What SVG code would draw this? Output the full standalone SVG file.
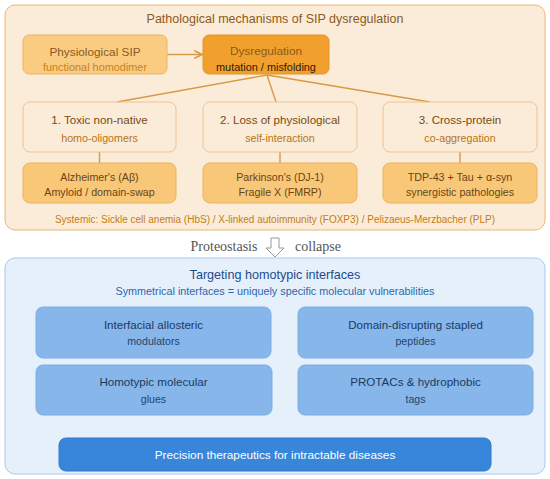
<svg xmlns="http://www.w3.org/2000/svg" width="550" height="479" viewBox="0 0 550 479">
<defs>
<style>
text{font-family:"Helvetica Neue","Liberation Sans",Arial,sans-serif;text-anchor:middle}
.panelA{fill:#fbecd9;stroke:#e8b877;stroke-width:1}
.panelB{fill:#e6f0fb;stroke:#a9c9ef;stroke-width:1}
.light{fill:#f9cc82;stroke:#edb35e;stroke-width:1}
.dark{fill:#f1a02e;stroke:#e39427;stroke-width:1}
.mech{fill:#fbecd9;stroke:#eec48f;stroke-width:1}
.dis{fill:#f8c878;stroke:#eab160;stroke-width:1}
.blue{fill:#86b6ea;stroke:#7aaee6;stroke-width:1}
.final{fill:#3886da;stroke:#3078c8;stroke-width:1}
.conA{stroke:#d99a45;stroke-width:1.4;fill:none}
.conB{stroke:#70a8e6;stroke-width:1.2;fill:none}
.t1{font-size:11.8px;fill:#8a5a1a}
.s1{font-size:10.9px;fill:#c0801c}
.t2{font-size:11.6px;fill:#7a4a10}
.s2{font-size:10.7px;fill:#b87410}
.d{font-size:10.7px;fill:#6a4414}
.bt{font-size:11.6px;fill:#1c3a60}
.bs{font-size:10.6px;fill:#24456e}
</style>
<marker id="arrA" viewBox="0 0 10 10" refX="9" refY="5" markerWidth="7" markerHeight="7" orient="auto"><path d="M1,1 L9,5 L1,9" fill="none" stroke="#d99a45" stroke-width="1.6"/></marker>
<marker id="arrB" viewBox="0 0 10 10" refX="9" refY="5" markerWidth="6" markerHeight="6" orient="auto"><path d="M1,1 L9,5 L1,9" fill="none" stroke="#70a8e6" stroke-width="1.6"/></marker>
</defs>
<rect width="550" height="479" fill="#ffffff"/>
<g id="panel-top">
<rect class="panelA" x="5" y="5" width="540" height="225" rx="10"/>
<text x="275" y="23" style="font-size:12.5px;fill:#8a5a1a">Pathological mechanisms of SIP dysregulation</text>
<text x="275" y="223" style="font-size:10px;fill:#c47c14">Systemic: Sickle cell anemia (HbS) / X-linked autoimmunity (FOXP3) / Pelizaeus-Merzbacher (PLP)</text>
</g>
<g id="connectors">
<line class="conA" x1="167" y1="54.5" x2="202" y2="54.5" marker-end="url(#arrA)"/>
<line class="conA" x1="267" y1="75" x2="117" y2="102"/>
<line class="conA" x1="267" y1="75" x2="276" y2="102"/>
<line class="conA" x1="267" y1="75" x2="430" y2="102"/>
<line class="conA" x1="99.5" y1="152" x2="99.5" y2="163"/>
<line class="conA" x1="280" y1="152" x2="280" y2="163"/>
<line class="conA" x1="460" y1="152" x2="460" y2="163"/>
<line class="conB" x1="153.5" y1="415" x2="153.5" y2="437" marker-end="url(#arrB)"/>
<line class="conB" x1="415.5" y1="415" x2="415.5" y2="437" marker-end="url(#arrB)"/>
</g>
<g id="n-physio">
<rect class="light" x="23" y="35" width="144" height="39" rx="6"/>
<text x="95" y="56" class="t1">Physiological SIP</text>
<text x="95" y="71" class="s1" style="fill:#c8821c">functional homodimer</text>
</g>
<g id="n-dysreg">
<rect class="dark" x="203" y="35" width="126" height="39" rx="6"/>
<text x="266" y="55" class="t1" style="fill:#8a5a1a">Dysregulation</text>
<text x="266" y="71" style="font-size:10.9px;fill:#2a1c08">mutation / misfolding</text>
</g>
<g id="n-mech1">
<rect class="mech" x="23" y="102" width="153" height="50" rx="7"/>
<text x="99.5" y="124" class="t2">1. Toxic non-native</text>
<text x="99.5" y="142" class="s2">homo-oligomers</text>
</g>
<g id="n-mech2">
<rect class="mech" x="203" y="102" width="154" height="50" rx="7"/>
<text x="280" y="124" class="t2">2. Loss of physiological</text>
<text x="280" y="142" class="s2">self-interaction</text>
</g>
<g id="n-mech3">
<rect class="mech" x="383" y="102" width="154" height="50" rx="7"/>
<text x="460" y="124" class="t2">3. Cross-protein</text>
<text x="460" y="142" class="s2">co-aggregation</text>
</g>
<g id="n-dis1">
<rect class="dis" x="23" y="163" width="153" height="40" rx="7"/>
<text x="99.5" y="181" class="d">Alzheimer's (Aβ)</text>
<text x="99.5" y="196" class="d">Amyloid / domain-swap</text>
</g>
<g id="n-dis2">
<rect class="dis" x="203" y="163" width="154" height="40" rx="7"/>
<text x="280" y="181" class="d">Parkinson's (DJ-1)</text>
<text x="280" y="196" class="d">Fragile X (FMRP)</text>
</g>
<g id="n-dis3">
<rect class="dis" x="383" y="163" width="154" height="40" rx="7"/>
<text x="460" y="181" class="d">TDP-43 + Tau + α-syn</text>
<text x="460" y="196" class="d">synergistic pathologies</text>
</g>
<g id="transition">
<text x="224" y="251" style="font-family:'Liberation Serif','Times New Roman',serif;font-size:14px;fill:#555555">Proteostasis</text>
<path d="M271,238 L279,238 L279,248 L284,248 L275,257 L266,248 L271,248 Z" fill="#ffffff" stroke="#999999" stroke-width="1"/>
<text x="318" y="251" style="font-family:'Liberation Serif','Times New Roman',serif;font-size:14px;fill:#555555">collapse</text>
</g>
<g id="panel-bottom">
<rect class="panelB" x="5" y="258" width="540" height="216" rx="10"/>
<text x="275" y="279" style="font-size:12.6px;fill:#1a4c8c">Targeting homotypic interfaces</text>
<text x="275" y="295" style="font-size:10.8px;fill:#2a66b0">Symmetrical interfaces = uniquely specific molecular vulnerabilities</text>
</g>
<g id="n-allo">
<rect class="blue" x="36" y="307" width="235" height="51" rx="7"/>
<text x="153.5" y="329" class="bt">Interfacial allosteric</text>
<text x="153.5" y="345" class="bs">modulators</text>
</g>
<g id="n-stapled">
<rect class="blue" x="298" y="307" width="235" height="51" rx="7"/>
<text x="415.5" y="329" class="bt">Domain-disrupting stapled</text>
<text x="415.5" y="345" class="bs">peptides</text>
</g>
<g id="n-glue">
<rect class="blue" x="36" y="365" width="236" height="50" rx="7"/>
<text x="153.5" y="386" class="bt">Homotypic molecular</text>
<text x="153.5" y="403" class="bs">glues</text>
</g>
<g id="n-protac">
<rect class="blue" x="298" y="365" width="235" height="50" rx="7"/>
<text x="415.5" y="386" class="bt">PROTACs &amp; hydrophobic</text>
<text x="415.5" y="403" class="bs">tags</text>
</g>
<g id="n-final">
<rect class="final" x="59" y="438" width="432" height="33" rx="7"/>
<text x="275" y="459" style="font-size:11.8px;fill:#ffffff">Precision therapeutics for intractable diseases</text>
</g>
</svg>
